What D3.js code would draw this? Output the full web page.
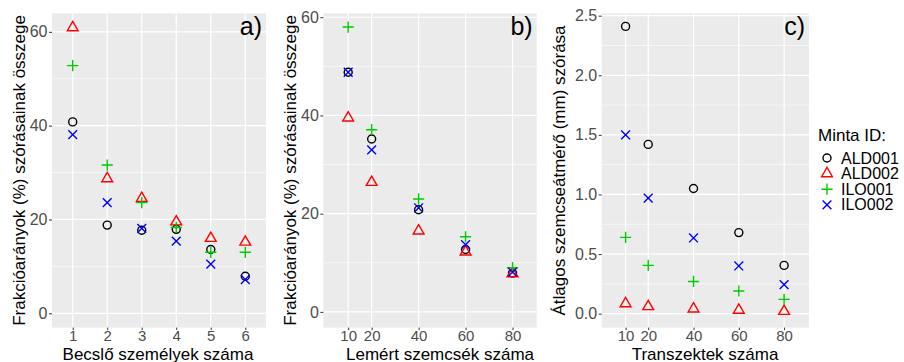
<!DOCTYPE html>
<html>
<head>
<meta charset="utf-8">
<script src="https://cdn.jsdelivr.net/npm/d3@7"></script>
<style>
  body { margin: 0; background: #fff; }
  svg { display: block; font-family: "Liberation Sans", Arial, sans-serif; }
</style>
</head>
<body>
<svg></svg>
<script>
// ---- data ----
const ids = ["ALD001", "ALD002", "ILO001", "ILO002"];
const colors = ["#000000", "#ff0000", "#00cd00", "#0000ff"];
const shapes = ["circle", "triangle", "plus", "cross"];

// a) becslő személyek
const xA = [1, 2, 3, 4, 5, 6];
const aALD001 = [40.8, 18.8, 17.7, 17.9, 13.6, 7.9];
const aALD002 = [60.9, 28.7, 24.5, 19.5, 16.0, 15.2];
const aILO001 = [52.8, 31.6, 23.6, 18.3, 13.0, 13.0];
const aILO002 = [38.1, 23.6, 18.1, 15.4, 10.5, 7.2];

// b) lemért szemcsék
const xB = [10, 20, 40, 60, 80];
const bALD001 = [48.8, 35.2, 20.8, 12.7, 7.9];
const bALD002 = [39.5, 26.4, 16.5, 12.2, 7.8];
const bILO001 = [58.0, 37.1, 23.0, 15.3, 9.0];
const bILO002 = [48.8, 33.0, 21.2, 13.7, 8.1];

// c) transzektek
const xC = [10, 20, 40, 60, 80];
const cALD001 = [2.41, 1.42, 1.05, 0.68, 0.405];
const cALD002 = [0.084, 0.06, 0.04, 0.03, 0.02];
const cILO001 = [0.64, 0.405, 0.27, 0.19, 0.12];
const cILO002 = [1.50, 0.97, 0.635, 0.40, 0.243];

const yTicksAB = [0, 20, 40, 60];
const yMinorAB = [10, 30, 50];
const yTicksC = [0, 0.5, 1.0, 1.5, 2.0, 2.5];
const yMinorC = [0.25, 0.75, 1.25, 1.75, 2.25];

const size = { w: 904, h: 362 };
const svg = d3.select("svg").attr("width", size.w).attr("height", size.h);

const panelTop = 13.3, panelBottom = 327.6;

const panels = [
  {
    left: 52, right: 266, xDomain: [0.4, 6.6], yDomain: [-3.05, 63.95],
    xs: xA, series: [aALD001, aALD002, aILO001, aILO002],
    xTicks: xA, yTicks: yTicksAB, yMinor: yMinorAB, yFmt: d3.format("d"),
    label: "a)", xTitle: "Becslő személyek száma", xTitleX: 158,
    yTitle: "Frakcióarányok (%) szórásainak összege", yTitleX: 19
  },
  {
    left: 323.3, right: 536.7, xDomain: [-0.6, 90.3], yDomain: [-3.2, 60.8],
    xs: xB, series: [bALD001, bALD002, bILO001, bILO002],
    xTicks: xB, yTicks: yTicksAB, yMinor: yMinorAB, yFmt: d3.format("d"),
    label: "b)", xTitle: "Lemért szemcsék száma", xTitleX: 440,
    yTitle: "Frakcióarányok (%) szórásainak összege", yTitleX: 290
  },
  {
    left: 601.7, right: 809, xDomain: [-0.55, 91], yDomain: [-0.117, 2.52],
    xs: xC, series: [cALD001, cALD002, cILO001, cILO002],
    xTicks: xC, yTicks: yTicksC, yMinor: yMinorC, yFmt: d3.format(".1f"),
    label: "c)", xTitle: "Transzektek száma", xTitleX: 705,
    yTitle: "Átlagos szemcseátmérő (mm) szórása", yTitleX: 559
  }
];

// marker shapes drawn as paths around (0,0)
function shapePath(shape) {
  if (shape === "circle") {
    const r = 4;
    return `M${-r},0A${r},${r} 0 1,0 ${r},0A${r},${r} 0 1,0 ${-r},0Z`;
  }
  if (shape === "triangle") {
    const w = 5.4, h = 9.3;
    return `M0,${-h * 2 / 3}L${w},${h / 3}L${-w},${h / 3}Z`;
  }
  if (shape === "plus") {
    const s = 5.6;
    return `M${-s},0L${s},0M0,${-s}L0,${s}`;
  }
  const s = 4.4;
  return `M${-s},${-s}L${s},${s}M${-s},${s}L${s},${-s}`;
}

panels.forEach((p) => {
  const x = d3.scaleLinear().domain(p.xDomain).range([p.left, p.right]);
  const y = d3.scaleLinear().domain(p.yDomain).range([panelBottom, panelTop]);
  const g = svg.append("g");

  // panel background + grid
  g.append("rect")
    .attr("x", p.left).attr("y", panelTop)
    .attr("width", p.right - p.left).attr("height", panelBottom - panelTop)
    .attr("fill", "#ebebeb");

  g.selectAll("line.minor")
    .data(p.yMinor)
    .join("line")
    .attr("x1", p.left).attr("x2", p.right)
    .attr("y1", (d) => y(d)).attr("y2", (d) => y(d))
    .attr("stroke", "#fff").attr("stroke-width", 0.6);

  g.selectAll("line.majorY")
    .data(p.yTicks)
    .join("line")
    .attr("x1", p.left).attr("x2", p.right)
    .attr("y1", (d) => y(d)).attr("y2", (d) => y(d))
    .attr("stroke", "#fff").attr("stroke-width", 1.2);

  g.append("g")
    .selectAll("line")
    .data(p.xTicks)
    .join("line")
    .attr("x1", (d) => x(d)).attr("x2", (d) => x(d))
    .attr("y1", panelTop).attr("y2", panelBottom)
    .attr("stroke", "#fff").attr("stroke-width", 1.2);

  // axes
  const yAxis = g.append("g")
    .attr("transform", `translate(${p.left},0)`)
    .call(d3.axisLeft(y).tickValues(p.yTicks).tickFormat(p.yFmt).tickSize(3).tickPadding(1.5));
  const xAxis = g.append("g")
    .attr("transform", `translate(0,${panelBottom})`)
    .call(d3.axisBottom(x).tickValues(p.xTicks).tickFormat(d3.format("d")).tickSize(2.5).tickPadding(0));
  [yAxis, xAxis].forEach((ax) => {
    ax.select(".domain").remove();
    ax.selectAll(".tick line").attr("stroke", "#333");
    ax.selectAll(".tick text")
      .attr("fill", "#4d4d4d")
      .style("font-family", "Liberation Sans, Arial, sans-serif");
  });
  yAxis.selectAll(".tick text").style("font-size", "16px");
  xAxis.selectAll(".tick text").style("font-size", "15px");

  // points
  p.series.forEach((vals, i) => {
    g.append("g")
      .selectAll("path")
      .data(vals)
      .join("path")
      .attr("transform", (d, j) => `translate(${x(p.xs[j])},${y(d)})`)
      .attr("d", shapePath(shapes[i]))
      .attr("fill", "none")
      .attr("stroke", colors[i])
      .attr("stroke-width", 1.4);
  });

  // panel letter
  g.append("text")
    .attr("x", p.right - 4).attr("y", 35)
    .attr("text-anchor", "end")
    .style("font-size", "25px")
    .text(p.label);

  // axis titles
  g.append("text")
    .attr("x", p.xTitleX).attr("y", 359.5)
    .attr("text-anchor", "middle")
    .style("font-size", "17px")
    .text(p.xTitle);

  g.append("text")
    .attr("transform", `translate(${p.yTitleX},${(panelTop + panelBottom) / 2}) rotate(-90)`)
    .attr("dy", "0.35em")
    .attr("text-anchor", "middle")
    .style("font-size", "17px")
    .text(p.yTitle);
});

// legend
const legend = svg.append("g").attr("transform", "translate(818,0)");
legend.append("text")
  .attr("x", 0).attr("y", 141)
  .style("font-size", "17px")
  .text("Minta ID:");

const rows = legend.selectAll("g.row")
  .data(ids)
  .join("g")
  .attr("transform", (d, i) => `translate(0,${158 + i * 15.6})`);
rows.append("path")
  .attr("transform", "translate(9,0)")
  .attr("d", (d, i) => shapePath(shapes[i]))
  .attr("fill", "none")
  .attr("stroke", (d, i) => colors[i])
  .attr("stroke-width", 1.4);
rows.append("text")
  .attr("x", 23).attr("dy", "0.35em")
  .style("font-size", "16px")
  .text((d) => d);
</script>
</body>
</html>
